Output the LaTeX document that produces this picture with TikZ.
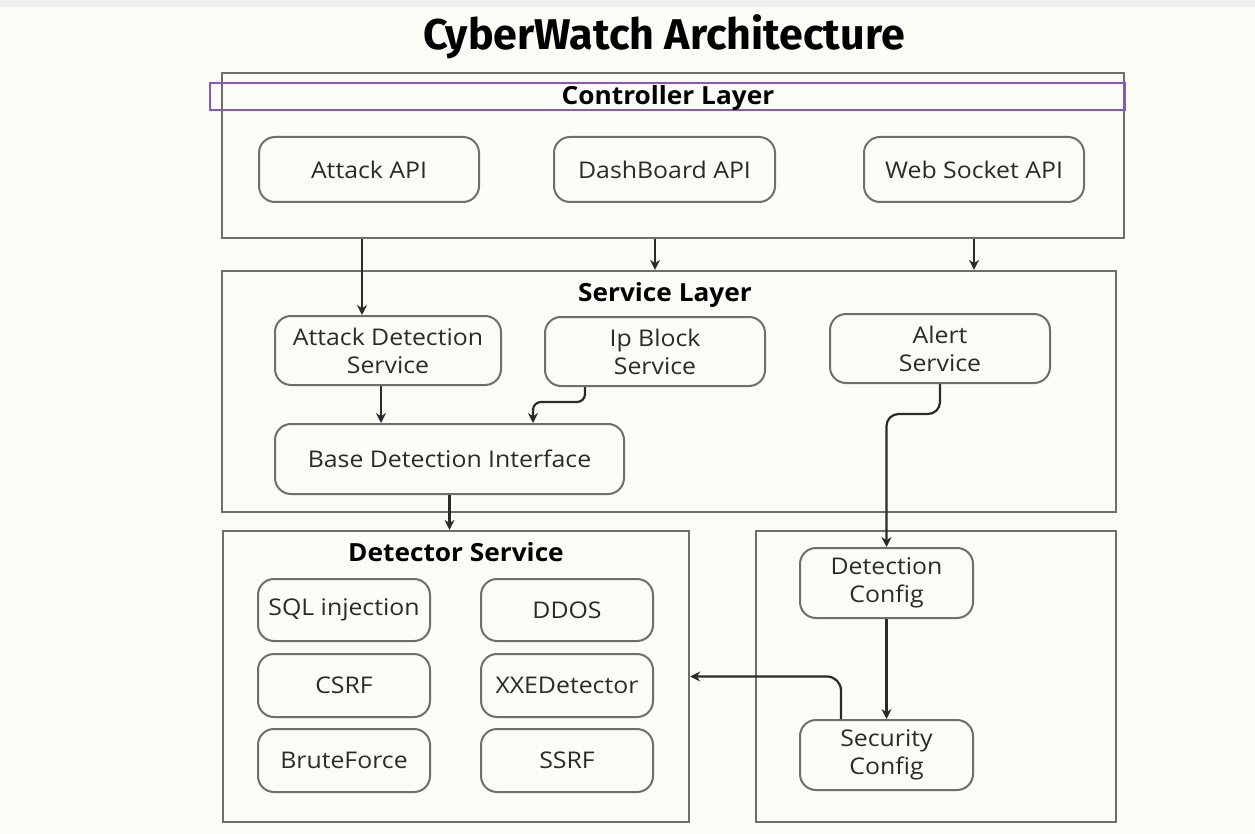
\documentclass[tikz,border=0pt]{standalone}
\usepackage{fontspec}
\setmainfont{Open Sans}[FakeStretch=1.08]
\newfontfamily\headfont{Open Sans}[FakeStretch=1.05]
\newfontfamily\titlefont{Fira Sans}
\usetikzlibrary{arrows.meta}
\definecolor{bg}{HTML}{FCFCF7}
\definecolor{boxgray}{HTML}{6E6E6E}
\definecolor{ink}{HTML}{2A2A2A}
\definecolor{lav}{HTML}{8757C9}
\tikzset{
  layer/.style={draw=boxgray, line width=2.2pt, inner sep=0pt},
  rbox/.style={draw=boxgray, line width=2pt, rounded corners=16pt, inner sep=0pt, align=center,
    text=ink, font=\fontsize{23}{28}\selectfont},
  head/.style={text=black, font=\headfont\bfseries\fontsize{25}{28}\selectfont, inner sep=0pt},
  arr/.style={draw=ink, line width=2.2pt, -{Stealth[length=10pt,width=10pt]}},
}
\begin{document}
\begin{tikzpicture}[x=1pt,y=-1pt]
\useasboundingbox (0,0) rectangle (1255,834);
\fill[bg] (0,0) rectangle (1255,834);
\fill[gray!12] (0,0) rectangle (1255,7);

\node[text=black, font=\titlefont\bfseries\fontsize{43}{46}\selectfont, inner sep=0pt] (title) at (664,37) {CyberWatch Architecture};

% layers
\node[layer, minimum width=902, minimum height=165] (ctrl) at (673,155.5) {};
\node[draw=lav, line width=2.6pt, minimum width=915, minimum height=27, inner sep=0pt] (ctrlbar) at (667.5,96.5) {};
\node[head] (ctrllbl) at (668,98) {Controller Layer};
\node[layer, minimum width=894, minimum height=241] (svc) at (669,391.5) {};
\node[head] (svclbl) at (665,295) {Service Layer};
\node[layer, minimum width=466, minimum height=291] (det) at (456,676.5) {};
\node[head] (detlbl) at (456,552) {Detector Service};
\node[layer, minimum width=360, minimum height=291] (cfg) at (936,676.5) {};

% controller boxes
\node[rbox, minimum width=220, minimum height=65] (atk) at (369,169.5) {Attack API};
\node[rbox, minimum width=221, minimum height=65] (dash) at (664.5,169.5) {DashBoard API};
\node[rbox, minimum width=220, minimum height=65] (ws) at (974,169.5) {Web Socket API};

% service boxes
\node[rbox, minimum width=226, minimum height=69] (attdet) at (388,350.5) {Attack Detection\\Service};
\node[rbox, minimum width=220, minimum height=69] (ipb) at (655,351.5) {Ip Block\\Service};
\node[rbox, minimum width=220, minimum height=69] (alert) at (940,348.5) {Alert\\Service};
\node[rbox, minimum width=349, minimum height=70] (base) at (449.5,459) {Base Detection Interface};

% detectors
\node[rbox, minimum width=172, minimum height=62] (sql) at (344,610) {SQL injection};
\node[rbox, minimum width=172, minimum height=62] (ddos) at (567,610) {DDOS};
\node[rbox, minimum width=172, minimum height=63] (csrf) at (344,685.5) {CSRF};
\node[rbox, minimum width=172, minimum height=63] (xxe) at (567,685.5) {XXEDetector};
\node[rbox, minimum width=172, minimum height=63] (brute) at (344,760.5) {BruteForce};
\node[rbox, minimum width=172, minimum height=63] (ssrf) at (567,760.5) {SSRF};

% config
\node[rbox, minimum width=173, minimum height=70] (detcfg) at (886.5,583) {Detection\\Config};
\node[rbox, minimum width=173, minimum height=70] (seccfg) at (886.5,755) {Security\\Config};

% connectors
\draw[arr] ([xshift=-26]attdet.north |- ctrl.south) -- ([xshift=-26]attdet.north);
\draw[arr] ([xshift=-9.5]dash.south |- ctrl.south) -- ([xshift=-9.5]dash.south |- svc.north);
\draw[arr] (ws.south |- ctrl.south) -- (ws.south |- svc.north);
\draw[arr] ([xshift=-7]attdet.south) -- ([xshift=-7]attdet.south |- base.north);
\draw[arr, rounded corners=8] ([xshift=-70]ipb.south) -- ++(0,15) -| ([xshift=83.5]base.north);
\draw[arr, rounded corners=12] (alert.south) -- ++(0,30) -| (detcfg.north);
\draw[arr] (base.south) -- (base.south |- det.north);
\draw[arr] (detcfg.south) -- (seccfg.north);
\draw[arr, rounded corners=14] ([xshift=-45.5]seccfg.north) |- (det.east);
\end{tikzpicture}
\end{document}
